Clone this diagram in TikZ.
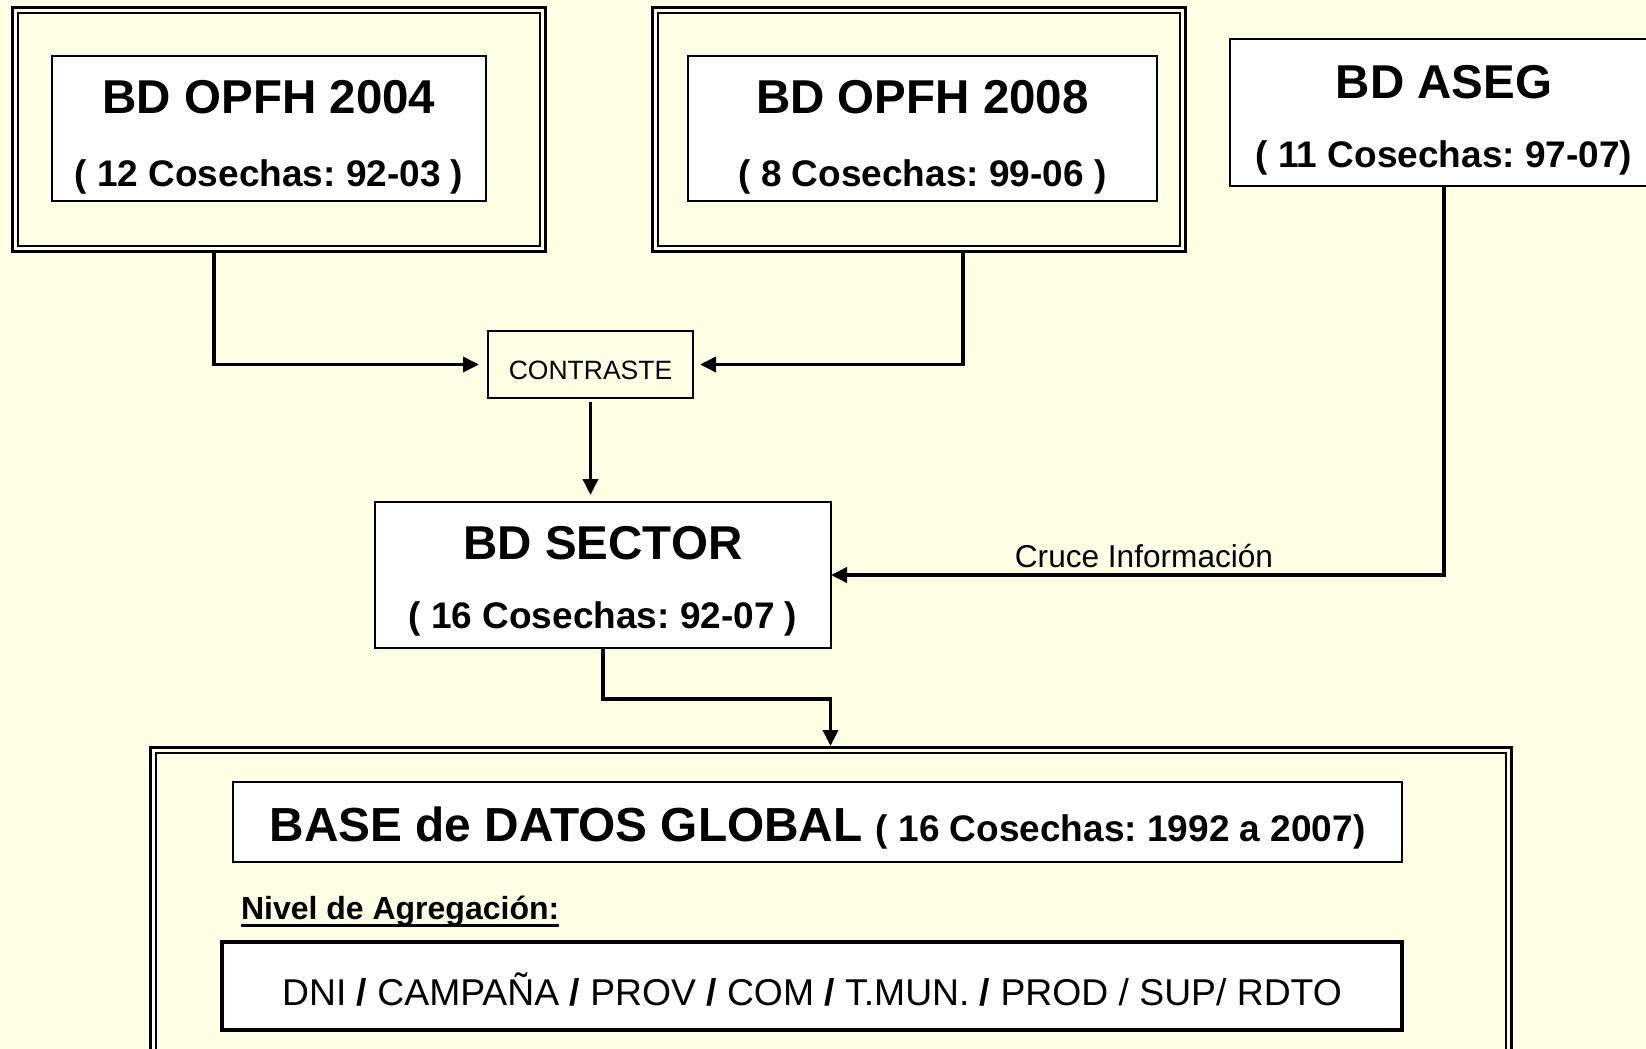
\documentclass[tikz,border=0pt]{standalone}
\usepackage{fontspec}
\setmainfont{Liberation Sans}
\usetikzlibrary{arrows.meta}
\definecolor{bg}{RGB}{255,255,229}
\frenchspacing
\begin{document}
\begin{tikzpicture}[x=1pt,y=-1pt,
  conn/.style={line width=3.6pt, -{Triangle[length=16pt,width=15pt]}},
  outerframe/.style={draw, line width=3pt, fill=bg, inner sep=0pt, outer sep=0pt},
  innerline/.style={line width=2pt},
  whitebox/.style={draw, line width=2pt, fill=white, inner sep=0pt, outer sep=0pt},
  txt/.style={inner sep=0pt, outer sep=0pt, anchor=base},
  title/.style={txt, font=\fontsize{47.5}{50}\selectfont\bfseries},
  sub/.style={txt, font=\fontsize{37}{40}\selectfont\bfseries},
]
\fill[bg] (0,0) rectangle (1646,1049);
\useasboundingbox (0,0) rectangle (1646,1049);
\clip (0,0) rectangle (1646,1049);

% frame 1
\node[outerframe, minimum width=533pt, minimum height=243.5pt] (f1) at (278.5,129.75) {};
\draw[innerline] ([shift={(5.5,5.5)}]f1.north west) rectangle ([shift={(-5.5,-5.5)}]f1.south east);
\node[whitebox, minimum width=434pt, minimum height=145pt] (b1) at (269,128.5) {};
\node[title] (b1t) at (269,113) {BD OPFH 2004};
\node[sub] (b1s) at (269,186) {( 12 Cosechas: 92-03 )};

% frame 2
\node[outerframe, minimum width=533pt, minimum height=243.5pt] (f2) at (918.5,129.75) {};
\draw[innerline] ([shift={(5.5,5.5)}]f2.north west) rectangle ([shift={(-5.5,-5.5)}]f2.south east);
\node[whitebox, minimum width=469pt, minimum height=145pt] (b2) at (922.5,128.5) {};
\node[title] (b2t) at (922.5,113) {BD OPFH 2008};
\node[sub] (b2s) at (922.5,186) {( 8 Cosechas: 99-06 )};

% ASEG
\node[whitebox, minimum width=428pt, minimum height=147pt] (aseg) at (1444,112.5) {};
\node[title] (asegt) at (1444,98) {BD ASEG};
\node[sub] (asegs) at (1444,167) {( 11 Cosechas: 97-07)};

% CONTRASTE
\node[draw, line width=2pt, fill=bg, inner sep=0pt, outer sep=0pt, minimum width=205pt, minimum height=67pt] (contr) at (590.5,364.5) {};
\node[txt, font=\fontsize{26.5}{28}\selectfont] (contrt) at (590.5,379) {CONTRASTE};

% SECTOR
\node[whitebox, minimum width=456pt, minimum height=146pt] (sector) at (603,575) {};
\node[title] (sectort) at (603,559) {BD SECTOR};
\node[sub] (sectors) at (603,628) {( 16 Cosechas: 92-07 )};

% global frame
\node[outerframe, minimum width=1361.5pt, minimum height=352.5pt] (gf) at (830.75,923.75) {};
\draw[innerline] ([shift={(5.5,5.5)}]gf.north west) rectangle ([shift={(-5.5,-5.5)}]gf.south east);
\node[whitebox, minimum width=1169pt, minimum height=80pt] (gbox) at (817.5,822) {};
\node[txt] (gtitle) at (817.5,841) {\fontsize{47.8}{50}\selectfont\bfseries BASE de DATOS GLOBAL \fontsize{37}{40}\selectfont ( 16 Cosechas: 1992 a 2007)};
\node[txt, anchor=base west, font=\fontsize{32}{34}\selectfont\bfseries] (nivel) at (241,919) {Nivel de Agregación:};
\draw[line width=2.8pt] ([yshift=-6.5pt]nivel.base west) -- ([yshift=-6.5pt]nivel.base east);
\node[draw, line width=3.5pt, fill=white, inner sep=0pt, outer sep=0pt, minimum width=1180pt, minimum height=88pt] (dnibox) at (812,986) {};
\node[txt, font=\fontsize{37.3}{40}\selectfont] (dni) at (812,1005) {DNI \textbf{/} CAMPAÑA \textbf{/} PROV \textbf{/} COM \textbf{/} T.MUN. \textbf{/} PROD / SUP/ RDTO};

% connectors
\coordinate (x1) at (214,0);
\coordinate (x2) at (963,0);
\coordinate (x5) at (830.5,0);
\draw[conn, shorten >=9pt] (f1.south -| x1) |- (contr.west);
\draw[conn, shorten >=7pt] (f2.south -| x2) |- (contr.east);
\draw[conn, shorten <=4pt, shorten >=7pt] (contr.south) -- (contr.south |- sector.north);
\draw[conn] (aseg.south) |- (sector.east);
\node[txt, font=\fontsize{31.6}{34}\selectfont] (cruce) at (1144,567) {Cruce Información};
\draw[conn, shorten >=1.5pt] (sector.south) -- ++(0,51) -| (gf.north -| x5);
\end{tikzpicture}
\end{document}
